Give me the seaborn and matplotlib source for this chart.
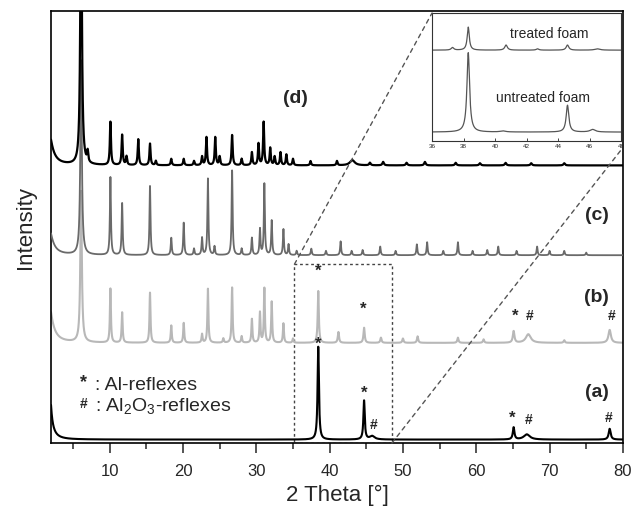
import numpy as np
import pandas as pd
import seaborn as sns
import matplotlib.pyplot as plt
from matplotlib.patches import Rectangle, ConnectionPatch

# peak lists: position [deg], height above baseline, half width
# (d)
d_base = 64.3
d_pos = [1.5, 6.1, 7.0, 10.1, 11.7, 12.3, 13.9, 15.5, 16.3, 18.4, 20.1, 21.5, 22.6, 23.2, 24.4, 25.0,
         26.7, 28.0, 29.4, 30.3, 31.0, 31.9, 32.5, 33.3, 34.1, 35.0, 37.4, 41.0, 43.1, 45.5, 47.3,
         50.5, 53.0, 57.2, 60.5, 64.0, 67.5, 72.0]
d_hgt = [10, 70, 2.5, 10, 7, 2, 6, 5, 1, 1.5, 1.5, 1, 2, 6.5, 6.5, 2,
         7, 1.5, 3, 5, 10, 4, 2, 3, 2.5, 1.5, 1, 1, 1.2, 0.6, 0.8,
         0.6, 0.8, 0.6, 0.5, 0.6, 0.5, 0.5]
d_wid = [0.6, 0.12] + [0.09] * 26 + [0.4] + [0.12] * 9
# (c)
c_base = 43.5
c_pos = [1.5, 6.1, 10.1, 11.7, 15.5, 18.4, 20.1, 21.5, 22.6, 23.4, 24.3, 26.7, 28.0, 29.4, 30.5,
         31.1, 32.1, 33.7, 34.4, 35.5, 37.5, 39.5, 41.5, 43.0, 44.5, 46.9, 49.0, 51.9, 53.3, 55.5,
         57.5, 59.5, 61.5, 63.0, 65.5, 68.3, 70.0, 72.0, 75.0]
c_hgt = [8.5, 45, 18, 12, 16, 4, 7.5, 1.5, 4, 17.7, 2, 19.6, 1.5, 4, 6,
         16.5, 8, 6, 2.5, 1, 1.5, 1, 3.2, 1, 1.2, 2, 1, 2.5, 3, 1,
         3, 1, 1.2, 2, 1, 2, 1, 1, 0.6]
c_wid = [0.6, 0.12] + [0.08] * 37
# (b)
b_base = 23.2
b_pos = [1.5, 6.1, 10.1, 11.7, 15.5, 18.4, 20.1, 22.6, 23.4, 25.5, 26.7, 28.0, 29.4, 30.5, 31.1,
         32.1, 33.7, 35.0, 38.45, 41.2, 44.7, 47.0, 50.0, 52.0, 57.5, 61.0, 65.1, 67.1, 72.0, 78.2]
b_hgt = [12, 35, 12.5, 7, 11.6, 4, 4.6, 2, 12.5, 1, 12.8, 1.5, 5.5, 7, 12.6,
         9.5, 4.5, 1, 12, 2.5, 3.5, 1.2, 1, 1.5, 1.2, 0.8, 2.7, 2, 0.6, 3]
b_wid = [0.6, 0.12] + [0.08] * 16 + [0.09, 0.1, 0.1, 0.1, 0.1, 0.1, 0.1, 0.1, 0.13, 0.4, 0.1, 0.2]
# (a) untreated Al foam
a_base = 0.8
a_pos = [1.5, 38.45, 44.7, 45.8, 65.1, 66.9, 78.2]
a_hgt = [58, 21.5, 9, 0.8, 2.8, 1.2, 2.5]
a_wid = [0.2, 0.11, 0.11, 0.4, 0.13, 0.5, 0.16]

# inset 36-48 deg
u_base = 7
u_pos = [38.3, 40.5, 44.6, 46.2]
u_hgt = [62, 0.8, 21, 2]
u_wid = [0.1, 0.2, 0.1, 0.2]
t_base = 71
t_pos = [37.3, 38.3, 40.7, 42.7, 44.6, 46.5]
t_hgt = [2, 18, 4, 1, 4, 1]
t_wid = [0.1, 0.08, 0.1, 0.1, 0.1, 0.2]

al_marks = [(38.4, 22.9, '*'), (44.7, 11.6, '*'), (46.0, 4.2, '#'), (64.9, 5.8, '*'), (67.1, 5.4, '#'), (78.1, 5.8, '#'),
            (38.5, 39.7, '*'), (44.6, 30.9, '*'), (65.3, 29.4, '*'), (67.3, 29.4, '#'), (78.4, 29.4, '#')]
curve_labels = [('(a)', 76.4, 11.6), ('(b)', 76.4, 33.8), ('(c)', 76.4, 52.8), ('(d)', 35.3, 79.9)]


def pattern(x, base, pos, hgt, wid):
    y = np.full_like(x, base)
    for p, h, w in zip(pos, hgt, wid):
        y += h / (1 + ((x - p) / w) ** 2)
    return y


two_theta = np.arange(2, 80.001, 0.01)
df = pd.DataFrame({'2theta': two_theta,
                   'a': pattern(two_theta, a_base, a_pos, a_hgt, a_wid),
                   'b': pattern(two_theta, b_base, b_pos, b_hgt, b_wid),
                   'c': pattern(two_theta, c_base, c_pos, c_hgt, c_wid),
                   'd': pattern(two_theta, d_base, d_pos, d_hgt, d_wid)})
zoom_theta = np.arange(36, 48.001, 0.01)
df_in = pd.DataFrame({'2theta': zoom_theta,
                      'untreated': pattern(zoom_theta, u_base, u_pos, u_hgt, u_wid),
                      'treated': pattern(zoom_theta, t_base, t_pos, t_hgt, t_wid)})

sns.set_style('ticks')
plt.rcParams['font.family'] = ['Liberation Sans', 'DejaVu Sans']
plt.rcParams['mathtext.fontset'] = 'custom'
plt.rcParams['mathtext.rm'] = 'Liberation Sans'

fig = plt.figure(figsize=(6.33, 5.11), dpi=100)
ax = fig.add_axes([0.0806, 0.133, 0.9034, 0.845])

sns.lineplot(data=df, x='2theta', y='b', color='#b8b8b8', lw=1.5, ax=ax, zorder=2)
sns.lineplot(data=df, x='2theta', y='c', color='#6a6a6a', lw=1.3, ax=ax, zorder=3)
sns.lineplot(data=df, x='2theta', y='a', color='black', lw=1.5, ax=ax, zorder=4)
sns.lineplot(data=df, x='2theta', y='d', color='black', lw=1.6, ax=ax, zorder=5)

ax.set_xlim(2, 80)
ax.set_ylim(0, 100)
ax.set_xticks(range(10, 81, 10))
ax.set_xticks(range(5, 81, 10), minor=True)
ax.set_yticks([])
ax.tick_params(axis='x', which='major', direction='out', length=7, width=1.1, labelsize=12, pad=8)
ax.tick_params(axis='x', which='minor', direction='out', length=4, width=1.1)
for s in ax.spines.values():
    s.set_visible(True)
    s.set_linewidth(1.2)
    s.set_color('black')
ax.set_xlabel('2 Theta [°]', fontsize=16, labelpad=4)
ax.set_ylabel('Intensity', fontsize=16, labelpad=11)

for x, y, m in al_marks:
    ax.text(x, y, m, fontsize=12 if m == '*' else 10, fontweight='bold', ha='center', va='center', zorder=6)
for lab, x, y in curve_labels:
    ax.text(x, y, lab, fontsize=14, fontweight='bold', ha='center', va='center')

ax.text(6.4, 13.0, '*', fontsize=13, fontweight='bold', ha='center', va='baseline')
ax.text(6.4, 8.0, '#', fontsize=10, fontweight='bold', ha='center', va='baseline')
ax.text(8.0, 12.3, ': Al-reflexes', fontsize=14, va='baseline')
ax.text(8.0, 7.2, r': Al$_\mathregular{2}$O$_\mathregular{3}$-reflexes', fontsize=14, va='baseline')

# zoom window and inset
ax.add_patch(Rectangle((35.2, 0), 13.3, 41.4, fill=False, ls=(0, (2, 2)), lw=1, ec='#444444', zorder=1))

axin = fig.add_axes([0.6825, 0.724, 0.2986, 0.2505])
sns.lineplot(data=df_in, x='2theta', y='untreated', color='#555555', lw=0.9, ax=axin)
sns.lineplot(data=df_in, x='2theta', y='treated', color='#555555', lw=0.9, ax=axin)
axin.set_xlim(36, 48)
axin.set_ylim(0, 100)
axin.set_xticks(range(36, 49, 2))
axin.set_yticks([])
axin.set_xlabel('')
axin.set_ylabel('')
axin.tick_params(axis='x', direction='in', length=2, width=0.6, labelsize=4.5, pad=2)
for s in axin.spines.values():
    s.set_visible(True)
    s.set_linewidth(0.8)
    s.set_color('#333333')
axin.text(0.62, 0.84, 'treated foam', transform=axin.transAxes, fontsize=10, ha='center', va='center')
axin.text(0.587, 0.336, 'untreated foam', transform=axin.transAxes, fontsize=10, ha='center', va='center')

for xy_a, xy_b in [((35.2, 41.4), (0, 1)), ((48.5, 0), (1, -0.07))]:
    con = ConnectionPatch(xyA=xy_a, coordsA=ax.transData, xyB=xy_b, coordsB=axin.transAxes,
                          ls=(0, (3, 3)), lw=1, color='#555555')
    fig.add_artist(con)

plt.savefig('out.png', dpi=100)
